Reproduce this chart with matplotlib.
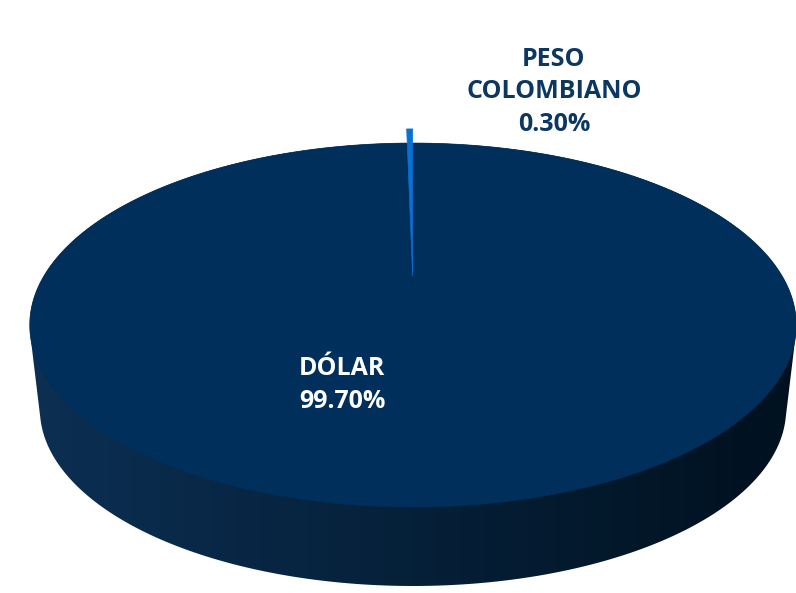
import numpy as np
import matplotlib
matplotlib.use('Agg')
import matplotlib.pyplot as plt
from matplotlib.patches import Polygon

# datos
categorias = ['DÓLAR', 'PESO\nCOLOMBIANO']
valores = [99.70, 0.30]
colores = ['#002f5b', '#0a70d4']
etiquetas = ['DÓLAR\n99.70%', 'PESO\nCOLOMBIANO\n0.30%']

# geometría del pastel 3D (en pixeles de la figura)
CX, CY = 413, 295      # centro del disco superior
A, B = 378, 177        # semiejes
K = 0.165              # perspectiva
PROF = 85              # grosor
EXPLODE = 0.11


def proyectar(u, v, nivel=0.0):
    a = A - 10 * nivel
    b = B - 5 * nivel
    cy = CY + PROF * nivel
    d = 1 + K * v
    return CX + a * u / d, cy - b * v / d


def envolvente(puntos):
    # casco convexo (monotone chain)
    pts = sorted(set(puntos))

    def cruz(o, a, b):
        return (a[0] - o[0]) * (b[1] - o[1]) - (a[1] - o[1]) * (b[0] - o[0])

    inf, sup = [], []
    for p in pts:
        while len(inf) >= 2 and cruz(inf[-2], inf[-1], p) <= 0:
            inf.pop()
        inf.append(p)
    for p in reversed(pts):
        while len(sup) >= 2 and cruz(sup[-2], sup[-1], p) <= 0:
            sup.pop()
        sup.append(p)
    return inf[:-1] + sup[:-1]


fig = plt.figure(figsize=(7.96, 5.93), dpi=100)
ax = fig.add_axes([0, 0, 1, 1])
ax.set_xlim(0, 796)
ax.set_ylim(593, 0)
ax.axis('off')

# lado del cilindro: degradado horizontal recortado a la silueta
th = np.linspace(0, 2 * np.pi, 721)
borde = [proyectar(np.sin(t), np.cos(t)) for t in th] + \
        [proyectar(np.sin(t), np.cos(t), 1) for t in th]
borde = [(round(x, 3), round(y, 3)) for x, y in borde]
silueta = Polygon(envolvente(borde), closed=True, facecolor='none', edgecolor='none')
ax.add_patch(silueta)

xs = np.linspace(0, 1, 400)
c0 = np.array([0.045, 0.185, 0.325])
c1 = np.array([0.0, 0.065, 0.12])
grad = (c0[None, :] + (c1 - c0)[None, :] * xs[:, None])[None, :, :]
img = ax.imshow(grad, extent=[30, 796, 593, 100], aspect='auto',
                interpolation='bilinear', zorder=1)
img.set_clip_path(silueta)

# caras superiores de cada porción
angulos = np.cumsum([0] + valores) / sum(valores) * 2 * np.pi
for i, val in enumerate(valores):
    a0, a1 = angulos[i], angulos[i + 1]
    mid = (a0 + a1) / 2
    off = EXPLODE if val < 1 else 0.0
    du, dv = off * np.sin(mid), off * np.cos(mid)
    ts = np.linspace(a0, a1, max(int((a1 - a0) * 180), 3))
    pts = [proyectar(du, dv)] + [proyectar(np.sin(t) + du, np.cos(t) + dv) for t in ts]
    ax.add_patch(Polygon(pts, closed=True, facecolor=colores[i],
                         edgecolor=colores[i], lw=0.5, zorder=3))

ax.set_xlim(0, 796)
ax.set_ylim(593, 0)

# etiquetas
fuente = ['Open Sans', 'DejaVu Sans']
ax.text(342, 385, etiquetas[0], ha='center', va='center', color='white',
        fontsize=18, fontweight='bold', family=fuente, linespacing=1.45, zorder=5)
ax.text(554, 92, etiquetas[1], ha='center', va='center', color='#0c3760',
        fontsize=18, fontweight='bold', family=fuente, linespacing=1.4, zorder=5)

fig.savefig('out.png', dpi=100)
